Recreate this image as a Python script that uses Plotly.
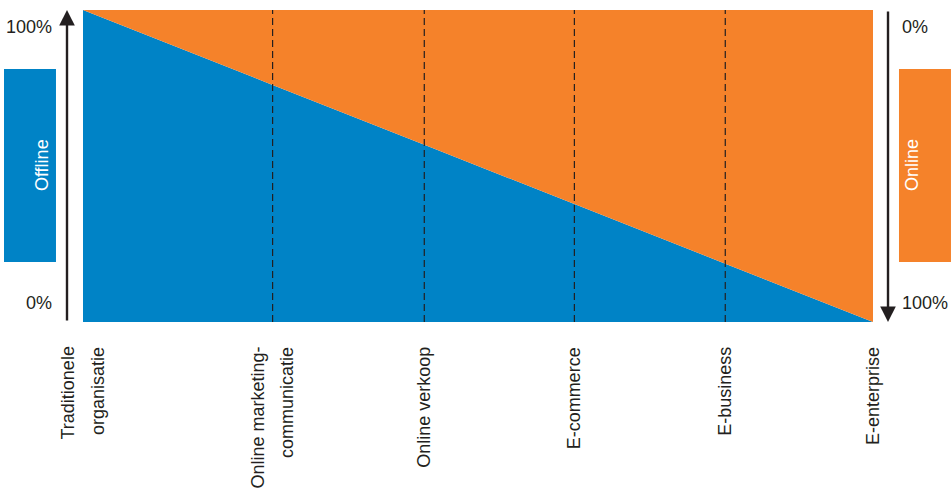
import plotly.graph_objects as go

# Data
stages = [["Traditionele", "organisatie"], ["Online marketing-", "communicatie"],
          ["Online verkoop"], ["E-commerce"], ["E-business"], ["E-enterprise"]]
stage_pos = [0, 24.0, 43.2, 62.2, 81.3, 100]
offline_pct = [100, 76.0, 56.8, 37.8, 18.7, 0]
online_pct = [0, 24.0, 43.2, 62.2, 81.3, 100]

BLUE = "#0083C6"
ORANGE = "#F5822A"
DARK = "#231F20"
FONT = "Liberation Sans"

fig = go.Figure()
fig.add_trace(go.Scatter(x=stage_pos, y=offline_pct, stackgroup="one", mode="none",
                         fillcolor=BLUE, name="Offline", hoverinfo="skip"))
fig.add_trace(go.Scatter(x=stage_pos, y=online_pct, stackgroup="one", mode="none",
                         fillcolor=ORANGE, name="Online", hoverinfo="skip"))

shapes = []
for xp in stage_pos[1:-1]:
    shapes.append(dict(type="line", xref="x", yref="y", x0=xp, x1=xp, y0=0, y1=100,
                       line=dict(color=DARK, width=1.2, dash="7px,4px"), layer="above"))
# side boxes
shapes.append(dict(type="rect", xref="paper", yref="paper", x0=-0.1, x1=-0.0342,
                   y0=0.1923, y1=0.8109, fillcolor=BLUE, line=dict(width=0)))
shapes.append(dict(type="rect", xref="paper", yref="paper", x0=1.0329, x1=1.0987,
                   y0=0.1923, y1=0.8109, fillcolor=ORANGE, line=dict(width=0)))

annotations = []
# category labels
for xp, lines in zip(stage_pos, stages):
    n = len(lines)
    for i, t in enumerate(lines):
        shift = (i - (n - 1) / 2) * 30
        annotations.append(dict(x=xp, y=-0.0737, xref="x", yref="paper", text=t,
                                textangle=-90, xanchor="center", yanchor="top",
                                xshift=shift, showarrow=False,
                                font=dict(family=FONT, size=18, color=DARK)))
# percent labels
pct = [("100%", -0.0367, 0.9455, "right"), ("0%", -0.0367, 0.0609, "right"),
       ("0%", 1.0342, 0.9455, "left"), ("100%", 1.0342, 0.0609, "left")]
for t, xx, yy, xa in pct:
    annotations.append(dict(x=xx, y=yy, xref="paper", yref="paper", text=t,
                            xanchor=xa, yanchor="middle", showarrow=False,
                            font=dict(family=FONT, size=18, color=DARK)))
# box labels
annotations.append(dict(x=-0.0671, y=0.503, xref="paper", yref="paper", text="Offline",
                        textangle=-90, showarrow=False,
                        font=dict(family=FONT, size=18, color="white")))
annotations.append(dict(x=1.0646, y=0.503, xref="paper", yref="paper", text="Online",
                        textangle=-90, showarrow=False,
                        font=dict(family=FONT, size=18, color="white")))
# arrows
annotations.append(dict(x=-0.02025, y=1.0, xref="paper", yref="paper", text="",
                        showarrow=True, ax=0, ay=312, arrowhead=2, arrowsize=1.3,
                        arrowwidth=2.4, arrowcolor=DARK))
annotations.append(dict(x=1.019, y=0.0, xref="paper", yref="paper", text="",
                        showarrow=True, ax=0, ay=-312, arrowhead=2, arrowsize=1.3,
                        arrowwidth=2.4, arrowcolor=DARK))

fig.update_layout(
    width=951, height=490,
    margin=dict(l=83, r=78, t=10, b=168),
    paper_bgcolor="white", plot_bgcolor="white",
    showlegend=False,
    xaxis=dict(range=[0, 100], showgrid=False, zeroline=False, showticklabels=False,
               showline=False, fixedrange=True),
    yaxis=dict(range=[0, 100], showgrid=False, zeroline=False, showticklabels=False,
               showline=False, fixedrange=True),
    shapes=shapes, annotations=annotations,
)

fig.write_html("out.html")
